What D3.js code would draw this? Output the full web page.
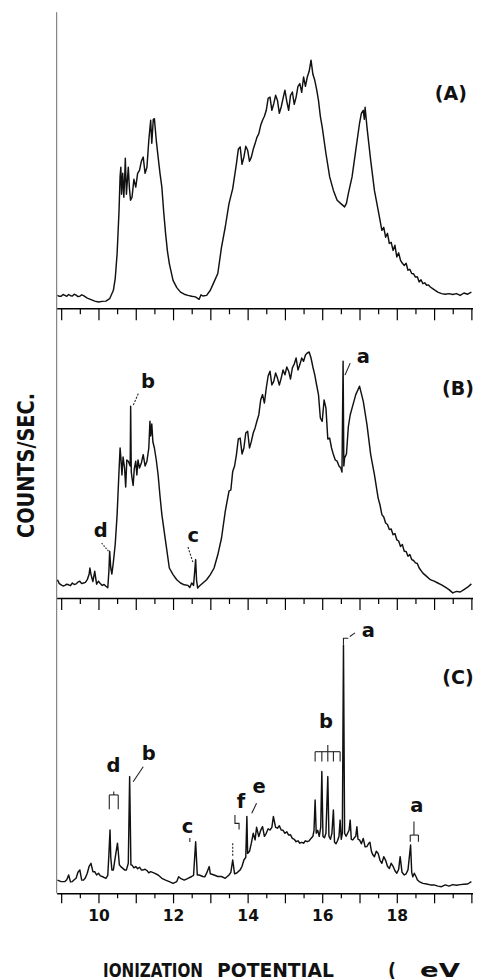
<!DOCTYPE html>
<html><head><meta charset="utf-8">
<script src="https://cdn.jsdelivr.net/npm/d3@7/dist/d3.min.js"></script>
<style>body{margin:0;background:#fff}svg{display:block}</style>
</head><body>
<svg id="c" width="477" height="979"></svg>
<script>
// ---- data: [ionization potential (eV), relative counts] ----
const specA = [[8.9,4.3],[8.95,4.0],[9.0,4.0],[9.05,4.6],[9.1,4.3],[9.15,4.0],[9.2,4.6],[9.25,4.2],[9.3,4.1],[9.35,4.7],[9.4,4.4],[9.45,3.9],[9.5,4.0],[9.55,4.5],[9.6,4.2],[9.7,3.4],[9.8,2.9],[9.9,2.4],[10.0,2.1],[10.1,2.3],[10.2,2.4],[10.3,3.2],[10.4,6.0],[10.45,10],[10.5,18.2],[10.55,32],[10.58,44],[10.6,47],[10.62,38],[10.65,45],[10.68,37],[10.7,42.7],[10.72,50],[10.75,38],[10.8,47],[10.83,40],[10.86,36],[10.9,37],[10.95,43],[11.0,40.4],[11.05,45],[11.1,46],[11.15,49],[11.2,50.4],[11.25,45],[11.3,47],[11.35,56],[11.4,62.7],[11.43,55],[11.47,63],[11.5,63.2],[11.55,56],[11.6,50.4],[11.65,45],[11.7,40.4],[11.75,32],[11.8,24.9],[11.85,19],[11.9,14.9],[12.0,9.3],[12.1,6.9],[12.2,5.4],[12.3,4.7],[12.4,4.3],[12.5,4.0],[12.6,3.8],[12.7,3.0],[12.75,4.5],[12.8,4.1],[12.9,4.3],[13.0,6.0],[13.1,8.8],[13.2,11.6],[13.3,20.4],[13.4,27.1],[13.5,34.9],[13.6,39.9],[13.7,48.2],[13.75,53],[13.8,53.8],[13.85,48],[13.9,50.4],[13.95,54],[14.0,52.7],[14.05,49],[14.1,50.4],[14.15,53],[14.2,54.9],[14.25,57],[14.3,58.2],[14.35,61],[14.4,62.7],[14.45,64],[14.5,66],[14.55,70],[14.6,70.4],[14.65,66],[14.7,68.2],[14.75,71],[14.8,69.3],[14.85,65],[14.9,67.1],[14.95,70],[15.0,72.7],[15.05,69],[15.1,66],[15.15,71],[15.2,72.1],[15.25,68],[15.3,70.4],[15.35,74],[15.4,74.9],[15.45,72],[15.5,77.1],[15.55,74],[15.6,77.1],[15.65,79],[15.7,82.7],[15.75,78],[15.8,76],[15.85,73],[15.9,69.3],[15.95,64],[16.0,60.4],[16.1,51.6],[16.2,43.8],[16.3,39.3],[16.4,36],[16.5,34.9],[16.6,33.8],[16.65,35],[16.7,38.2],[16.8,43.8],[16.9,52.7],[17.0,61.6],[17.05,65],[17.1,66],[17.13,63],[17.15,67],[17.2,60.4],[17.3,49.3],[17.4,39.3],[17.5,32.7],[17.6,26],[17.65,27],[17.7,23.7],[17.75,25],[17.8,21.6],[17.85,22],[17.9,19.3],[17.95,21],[18.0,17.1],[18.05,18.5],[18.1,16],[18.15,15],[18.2,14.3],[18.25,15],[18.3,12.7],[18.35,13],[18.4,11.6],[18.45,11.5],[18.5,10.4],[18.55,10.5],[18.6,8.8],[18.65,9.5],[18.7,8.2],[18.75,8.5],[18.8,7.7],[18.85,7.8],[18.9,7.1],[19.0,6.2],[19.1,5.4],[19.2,4.9],[19.3,4.7],[19.4,4.9],[19.5,4.6],[19.6,4.9],[19.7,4.3],[19.8,5.1],[19.9,4.7],[20.0,5.4]];

const specB = [[8.9,6.1],[8.95,4.8],[9.0,4.4],[9.05,4.0],[9.1,4.2],[9.15,4.6],[9.2,4.4],[9.25,4.1],[9.3,5.0],[9.35,4.5],[9.4,4.7],[9.45,5.3],[9.5,5.6],[9.55,4.8],[9.6,5.0],[9.65,5.2],[9.7,6.1],[9.75,8.0],[9.77,10.0],[9.8,7.8],[9.85,5.5],[9.9,8.9],[9.95,4.6],[10.0,5.6],[10.05,4.8],[10.1,4.2],[10.15,4.5],[10.2,3.9],[10.25,3.4],[10.28,9],[10.3,15.6],[10.33,10],[10.36,8],[10.4,12],[10.45,18],[10.5,27.8],[10.55,42],[10.58,50],[10.6,47],[10.63,41],[10.66,47],[10.7,43.3],[10.73,37],[10.76,46],[10.8,45.6],[10.85,44],[10.863,63.9],[10.88,42],[10.9,40],[10.93,37.5],[10.96,43],[11.0,45.6],[11.03,41],[11.06,46],[11.1,43.3],[11.15,45],[11.2,47.8],[11.25,44],[11.3,45.6],[11.35,50],[11.38,58.9],[11.4,54],[11.43,58],[11.46,52],[11.5,50],[11.55,46],[11.6,41],[11.65,34],[11.7,27.8],[11.8,18.9],[11.9,10],[12.0,7.8],[12.1,6.1],[12.2,5],[12.3,4.4],[12.4,4.2],[12.45,3.5],[12.5,5.0],[12.55,4.2],[12.606,12.8],[12.63,6],[12.66,3.3],[12.7,3.9],[12.8,5],[12.9,6.1],[13.0,7.8],[13.1,10],[13.2,14.4],[13.3,20],[13.4,28.9],[13.5,35.6],[13.55,36],[13.6,42.2],[13.65,44],[13.7,47.8],[13.75,53],[13.8,53.3],[13.85,48],[13.9,50],[13.95,55],[14.0,55.6],[14.05,50],[14.1,52.2],[14.15,55],[14.2,56.7],[14.25,59],[14.3,61.1],[14.35,66],[14.4,67.8],[14.45,65],[14.5,70],[14.55,74],[14.6,75.6],[14.65,71],[14.7,72.2],[14.75,75],[14.8,73.3],[14.85,71],[14.9,73.3],[14.95,76],[15.0,74.4],[15.05,77],[15.1,75.6],[15.15,73],[15.2,76.7],[15.25,78],[15.3,80],[15.35,76],[15.4,77.8],[15.45,80],[15.5,78.9],[15.55,81],[15.6,81.7],[15.65,82],[15.7,80],[15.75,77],[15.8,74.4],[15.85,71],[15.9,67.8],[15.95,60],[16.0,58.9],[16.05,66],[16.1,63.3],[16.15,53],[16.2,53.3],[16.25,50],[16.3,47.8],[16.35,46],[16.4,45.6],[16.45,44],[16.5,43.3],[16.53,42],[16.56,78.9],[16.58,44],[16.6,46.7],[16.65,48],[16.7,57],[16.75,61],[16.8,63.3],[16.9,67.8],[17.0,70.6],[17.1,65.6],[17.2,57.8],[17.3,47.8],[17.4,41.1],[17.5,33.3],[17.55,31],[17.6,27.8],[17.65,27],[17.7,25],[17.75,24.5],[17.8,22.8],[17.85,23],[17.9,21.1],[17.95,21.5],[18.0,19.4],[18.05,19],[18.1,17.2],[18.15,17.8],[18.2,15.6],[18.25,15.5],[18.3,13.9],[18.35,14.5],[18.4,12.8],[18.45,12.5],[18.5,11.7],[18.55,11.5],[18.6,10],[18.7,8.3],[18.8,7.2],[18.9,6.1],[19.0,5.6],[19.1,5],[19.2,4.4],[19.3,3.6],[19.4,2.8],[19.5,1.7],[19.6,2.2],[19.7,2],[19.8,2.8],[19.9,3.6],[20.0,4.7]];

const specC = [[8.9,4.4],[9.0,3.9],[9.1,3.9],[9.15,4.5],[9.2,6.1],[9.25,3.8],[9.3,3.9],[9.35,4.5],[9.4,5],[9.45,7.0],[9.5,7.8],[9.55,4.4],[9.6,4.4],[9.65,5.2],[9.7,6.7],[9.75,9],[9.8,10],[9.85,7.2],[9.9,7.2],[9.95,6.1],[10.0,6.7],[10.05,5.8],[10.1,5.6],[10.2,5],[10.25,6],[10.28,13],[10.31,21.1],[10.33,12],[10.36,7.8],[10.4,7.8],[10.45,12],[10.51,16.7],[10.53,14],[10.56,9.5],[10.6,8.9],[10.7,7.8],[10.75,7.8],[10.8,10],[10.836,38.9],[10.87,9.5],[10.9,9.4],[10.95,8.5],[11.0,8.9],[11.05,8.2],[11.1,8.7],[11.15,7.8],[11.2,7.8],[11.25,8.0],[11.3,7.6],[11.35,6.8],[11.4,7.2],[11.5,6.7],[11.6,6.1],[11.7,5],[11.8,4.4],[11.9,3.9],[12.0,3.3],[12.1,3.9],[12.15,5.5],[12.2,5],[12.3,4.4],[12.4,5],[12.5,5.6],[12.55,6],[12.606,17.2],[12.65,6.1],[12.7,6.1],[12.8,5.6],[12.85,5.5],[12.9,6.7],[12.97,8.9],[13.0,6.5],[13.1,6.1],[13.2,5.6],[13.3,5.6],[13.4,5],[13.5,6.1],[13.55,7],[13.6,11.1],[13.65,6.5],[13.7,6.7],[13.8,7.8],[13.85,9],[13.9,11.1],[13.95,12],[13.98,25.6],[14.0,13.3],[14.05,14],[14.1,16.7],[14.15,20],[14.2,17.8],[14.24,22],[14.3,18.9],[14.35,21],[14.4,22.2],[14.45,19],[14.5,20],[14.55,21.5],[14.6,21.1],[14.65,22],[14.69,25.6],[14.75,22],[14.8,21.7],[14.85,22.5],[14.9,21.1],[14.95,21],[15.0,20],[15.05,20.5],[15.1,19.4],[15.15,19.5],[15.2,18.3],[15.25,18],[15.3,17.2],[15.35,17.5],[15.4,16.7],[15.45,17],[15.5,16.7],[15.55,17.5],[15.6,17.2],[15.65,17.5],[15.7,18.3],[15.75,19],[15.78,21],[15.81,31.1],[15.84,20],[15.88,21],[15.92,19],[15.96,22],[15.99,40.6],[16.02,19],[16.06,18.5],[16.1,20],[16.15,38.9],[16.18,19],[16.22,18],[16.26,20],[16.3,27.8],[16.33,17],[16.37,16.5],[16.41,17.5],[16.45,19],[16.48,24.4],[16.51,18],[16.54,20],[16.57,82.8],[16.6,20],[16.64,19],[16.68,20],[16.72,21],[16.75,24.4],[16.78,18],[16.82,17.8],[16.86,18.5],[16.9,19],[16.93,22.2],[16.96,18],[17.0,17.8],[17.05,16.5],[17.1,18.3],[17.15,15.5],[17.2,15.6],[17.25,16.7],[17.28,17],[17.32,14],[17.35,13],[17.4,12.2],[17.45,14],[17.5,13.3],[17.55,11],[17.6,10],[17.65,12.2],[17.7,11],[17.75,9],[17.8,8.3],[17.85,10],[17.9,9],[17.95,7.5],[18.0,6.7],[18.05,8],[18.09,12.2],[18.14,7],[18.2,6.1],[18.25,6.5],[18.3,7.8],[18.37,16.1],[18.4,7],[18.43,5.5],[18.47,6.7],[18.53,5.2],[18.55,4.5],[18.6,3.9],[18.7,3.3],[18.8,3.1],[18.9,2.8],[19.0,2.8],[19.1,2.4],[19.2,2.2],[19.3,2.8],[19.4,2.4],[19.5,2.9],[19.6,2.7],[19.7,2.9],[19.8,3],[19.9,3.1],[20.0,3.9]];

const labeledTicks = [10, 12, 14, 16, 18];
const panelNames = ["(A)", "(B)", "(C)"];
const xTitle = ["IONIZATION", "POTENTIAL", "(", "eV"];
const yTitle = "COUNTS/SEC.";

// annotation letters: [text, eV, value]
const notesB = [["a",17.1,78.3],["b",11.33,70],["d",10.06,20.3],["c",12.54,18.8]];
const notesC = [["a",17.24,85.5],["b",16.10,55],["d",10.40,40.5],["b",11.35,44.4],["c",12.39,20.1],["f",13.82,28.4],["e",14.31,33.4],["a",18.54,27.2]];
// leader lines / brackets in data space
const leadersB = [
  {pts:[[16.61,74.3],[16.75,78.3]], dash:null},
  {pts:[[10.935,64.3],[11.07,68.2]], dash:"2,1.5"},
  {pts:[[10.086,18.3],[10.31,15]], dash:"1.5,1.5"},
  {pts:[[12.40,17],[12.53,12]], dash:"2,1.5"}
];
const leadersC = [
  {pts:[[16.57,83],[16.57,85],[16.70,85]], dash:null},
  {pts:[[16.74,85.6],[16.88,86.8]], dash:null},
  {pts:[[10.93,37.2],[11.20,42.2]], dash:null},
  {pts:[[12.45,18.4],[12.45,17.1]], dash:null},
  {pts:[[13.66,26.1],[13.66,23.3],[13.77,23.3],[13.77,21.3]], dash:null},
  {pts:[[13.6,16.7],[13.6,12.5]], dash:"2,1.5"},
  {pts:[[14.11,26.7],[14.24,30]], dash:null}
];
// bracket combs: legs (eV), bar level, leg bottom, centre tick eV, tick top
const combsC = [
  {legs:[15.81,15.99,16.15,16.30,16.48], bar:47.2, foot:43.9, mid:16.15, top:49.4},
  {legs:[10.29,10.53], bar:32.8, foot:28, mid:10.41, top:33.9},
  {legs:[18.36,18.58], bar:19.4, foot:17.2, mid:18.46, top:23.9}
];

// ---- drawing ----
const FONT = "'DejaVu Sans', sans-serif";
const svg = d3.select("#c");
const x = d3.scaleLinear().domain([8.88, 20.03]).range([56.7, 472.5]);

const panels = [
  {data:specA, base:308.3, major:12, minor:6, name:panelNames[0], nameAt:[19.45,69.4], notes:[], leaders:[], combs:[]},
  {data:specB, base:598, major:12, minor:6, name:panelNames[1], nameAt:[19.64,67.7], notes:notesB, leaders:leadersB, combs:[]},
  {data:specC, base:893.3, major:10, minor:5, name:panelNames[2], nameAt:[19.64,69.8], notes:notesC, leaders:leadersC, combs:combsC, labeled:true}
];
panels.forEach(p => { p.y = d3.scaleLinear().domain([0,100]).range([p.base, p.base-300]); });

// left vertical axis (faint, continuous through all panels)
svg.append("line")
  .attr("x1", x.range()[0]).attr("x2", x.range()[0])
  .attr("y1", panels[0].y(98.7)).attr("y2", panels[2].y(0))
  .attr("stroke", "#6a6a6a").attr("stroke-width", 1);

panels.forEach(p => {
  const g = svg.append("g").attr("transform", `translate(0,${p.base})`);
  const major = g.append("g").call(
    d3.axisBottom(x).tickValues(d3.range(9, 20.01, 1)).tickSize(p.major).tickSizeOuter(0).tickPadding(7)
      .tickFormat(d => (p.labeled && labeledTicks.includes(d)) ? d : ""));
  const minor = g.append("g").call(
    d3.axisBottom(x).tickValues(d3.range(9.5, 20, 1)).tickSize(p.minor).tickSizeOuter(0).tickFormat(""));
  minor.select(".domain").remove();
  g.selectAll(".domain").attr("stroke", "#000").attr("stroke-width", 1.6);
  g.selectAll(".tick line").attr("stroke", "#000").attr("stroke-width", 1.2);
  major.selectAll("text").attr("font-family", FONT).attr("font-weight", "bold")
    .attr("font-size", 15.5).attr("fill", "#111");

  // spectrum
  svg.append("path").datum(p.data)
    .attr("d", d3.line().x(d => x(d[0])).y(d => p.y(d[1])))
    .attr("fill", "none").attr("stroke", "#111").attr("stroke-width", 1.45)
    .attr("stroke-linejoin", "round");

  // panel name
  svg.append("text").attr("x", x(p.nameAt[0])).attr("y", p.y(p.nameAt[1]))
    .attr("text-anchor", "middle").attr("font-family", FONT).attr("font-weight", "bold")
    .attr("font-size", 19).attr("fill", "#111").text(p.name);

  // annotation letters
  p.notes.forEach(n => {
    svg.append("text").attr("x", x(n[1])).attr("y", p.y(n[2]))
      .attr("text-anchor", "middle").attr("font-family", FONT).attr("font-weight", "bold")
      .attr("font-size", 19.5).attr("fill", "#111").text(n[0]);
  });
  const ln = d3.line().x(d => x(d[0])).y(d => p.y(d[1]));
  p.leaders.forEach(l => {
    svg.append("path").attr("d", ln(l.pts)).attr("fill", "none")
      .attr("stroke", "#222").attr("stroke-width", 1.1)
      .attr("stroke-dasharray", l.dash);
  });
  p.combs.forEach(c => {
    const lo = d3.min(c.legs), hi = d3.max(c.legs);
    svg.append("path").attr("d", ln([[lo, c.bar], [hi, c.bar]])).attr("stroke", "#222").attr("stroke-width", 1.1);
    c.legs.forEach(e => svg.append("path").attr("d", ln([[e, c.bar], [e, c.foot]])).attr("stroke", "#222").attr("stroke-width", 1.1));
    svg.append("path").attr("d", ln([[c.mid, c.bar], [c.mid, c.top]])).attr("stroke", "#222").attr("stroke-width", 1.1);
  });
});

// axis titles
svg.append("text")
  .attr("transform", "translate(34,465.5) rotate(-90)")
  .attr("text-anchor", "middle").attr("font-family", FONT).attr("font-weight", "bold")
  .attr("font-size", 23).attr("fill", "#111")
  .attr("textLength", 145).attr("lengthAdjust", "spacingAndGlyphs")
  .text(yTitle);

const titleSpans = [[103, 100], [217, 117], [388, 8], [420, 40]];
xTitle.forEach((w, i) => {
  svg.append("text").attr("x", titleSpans[i][0]).attr("y", 976.5)
    .attr("font-family", FONT).attr("font-weight", "bold").attr("font-size", 19).attr("fill", "#111")
    .attr("textLength", titleSpans[i][1]).attr("lengthAdjust", "spacingAndGlyphs")
    .text(w);
});
</script>
</body></html>
